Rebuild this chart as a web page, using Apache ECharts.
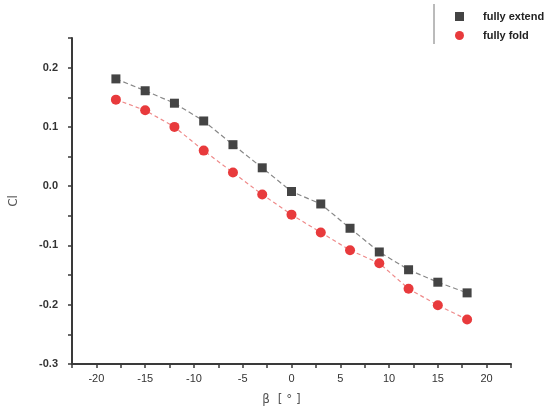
<!DOCTYPE html>
<html><head><meta charset="utf-8">
<script src="https://cdn.jsdelivr.net/npm/echarts@6/dist/echarts.min.js"></script>
<style>html,body{margin:0;padding:0;background:#fff}#c{width:550px;height:414px}</style>
</head><body><div id="c"></div>
<script>
var beta = [-18,-15,-12,-9,-6,-3,0,3,6,9,12,15,18];
var fullyExtend = [0.181,0.161,0.140,0.110,0.070,0.031,-0.009,-0.030,-0.071,-0.111,-0.141,-0.162,-0.180];
var fullyFold = [0.146,0.128,0.100,0.060,0.023,-0.014,-0.048,-0.078,-0.108,-0.130,-0.173,-0.201,-0.225];
var yTickLabels = ['-0.3','-0.2','-0.1','0.0','0.1','0.2'];

function pairs(xs, ys){ return xs.map(function(x,i){return [x, ys[i]];}); }

var chart = echarts.init(document.getElementById('c'));
var axisCol = '#3a3a3a';
chart.setOption({
  animation:false,
  backgroundColor:'#fff',
  grid:{left:67,right:39,top:38,bottom:50},
  legend:{
    orient:'vertical', left:450, top:6, itemGap:8, itemWidth:9, itemHeight:9,
    textStyle:{fontFamily:'Liberation Sans, Arial', fontWeight:'bold', fontSize:11, color:'#222', padding:[0,0,0,14]},
    data:[
      {name:'fully extend', icon:'rect', itemStyle:{color:'#444'}},
      {name:'fully fold', icon:'circle', itemStyle:{color:'#e83a3c'}}
    ]
  },
  graphic:[{type:'line', shape:{x1:434,y1:4,x2:434,y2:44}, style:{stroke:'#777', lineWidth:1}}],
  xAxis:{
    type:'value', min:-22.5, max:22.5, interval:2.5,
    name:'β  [ ° ]', nameLocation:'middle', nameGap:30,
    nameTextStyle:{fontFamily:'DejaVu Sans', fontSize:12, color:'#555', padding:[0,20,0,0]},
    axisLine:{onZero:false, lineStyle:{color:axisCol, width:2}},
    axisTick:{show:true, length:4, lineStyle:{color:axisCol, width:1.5}},
    axisLabel:{fontFamily:'Liberation Sans, Arial', fontSize:11, color:'#333', margin:9,
      formatter:function(v){ return (Math.round(v)===v && v%5===0 && Math.abs(v)<=20) ? String(v) : ''; }},
    splitLine:{show:false}
  },
  yAxis:{
    type:'value', min:-0.3, max:0.25, interval:0.05,
    name:'Cl', nameLocation:'middle', nameGap:52, nameRotate:90,
    nameTextStyle:{fontFamily:'DejaVu Sans', fontSize:12, color:'#555'},
    axisLine:{onZero:false, lineStyle:{color:axisCol, width:2}},
    axisTick:{show:true, length:4, lineStyle:{color:axisCol, width:1.5}},
    axisLabel:{fontFamily:'Liberation Sans, Arial', fontSize:11, fontWeight:'bold', color:'#333', margin:14,
      formatter:function(v){ var r=Math.round(v*100)/100; var s=r.toFixed(1); return (Math.abs(r*10-Math.round(r*10))<1e-6 && yTickLabels.indexOf(s)>=0) ? s : ''; }},
    splitLine:{show:false}
  },
  series:[
    {name:'fully extend', type:'line', data:pairs(beta, fullyExtend), symbol:'rect', symbolSize:9,
      itemStyle:{color:'#444'}, lineStyle:{color:'#888', width:1.2, type:[5,3]}},
    {name:'fully fold', type:'line', data:pairs(beta, fullyFold), symbol:'circle', symbolSize:10,
      itemStyle:{color:'#e83a3c'}, lineStyle:{color:'#ef8a8a', width:1.2, type:[4,3]}}
  ]
});
</script></body></html>
